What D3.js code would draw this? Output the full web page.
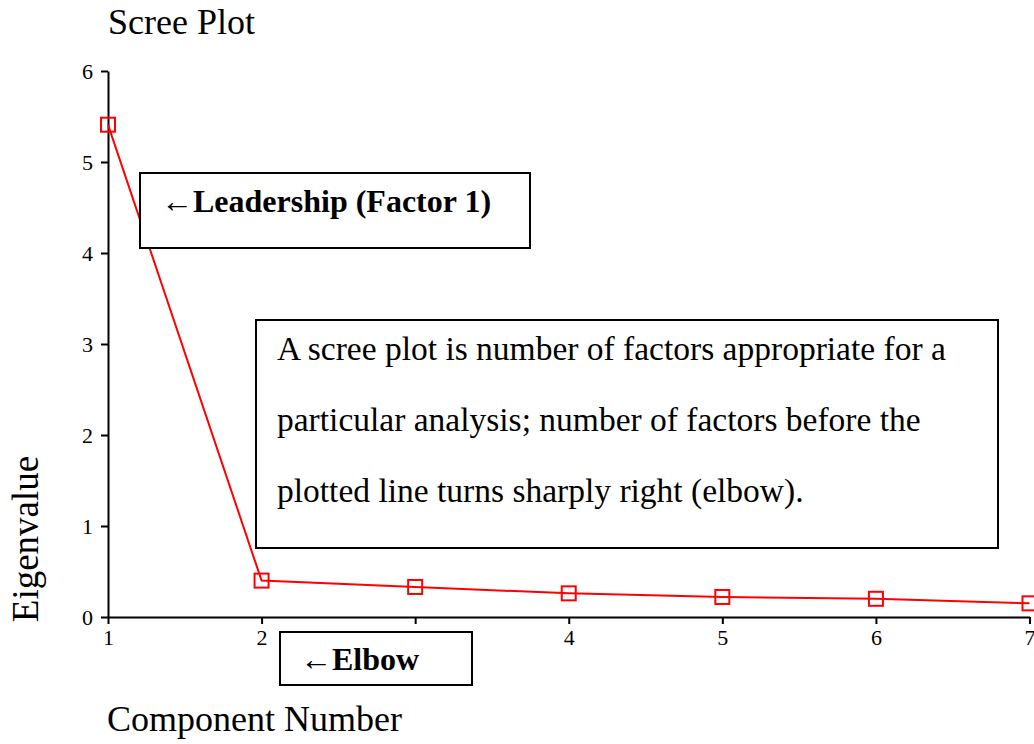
<!DOCTYPE html>
<html>
<head>
<meta charset="utf-8">
<script src="https://cdn.jsdelivr.net/npm/d3@7"></script>
<style>
  body { margin: 0; background: #fff; }
  svg text { font-family: "Liberation Serif", "Times New Roman", serif; }
</style>
</head>
<body>
<div id="chart"></div>
<script>
// component numbers and their eigenvalues
var components = [1, 2, 3, 4, 5, 6, 7];
var eigenvalues = [5.41, 0.40, 0.33, 0.26, 0.22, 0.20, 0.15];
var yTicks = [0, 1, 2, 3, 4, 5, 6];

var noteLines = [
	"A scree plot is number of factors appropriate for a",
	"particular analysis; number of factors before the",
	"plotted line turns sharply right (elbow)."
];

var W = 1034, H = 744;
var margin = {left: 108, right: 4, top: 71, bottom: 127};
var SERIF = '"Liberation Serif", "Times New Roman", serif';

var svg = d3.select("#chart").append("svg")
	.attr("width", W)
	.attr("height", H);

var x = d3.scaleLinear()
	.domain([1, 7])
	.range([margin.left, 1029.5]);

var y = d3.scaleLinear()
	.domain([0, 6])
	.range([617, margin.top]);

// axes
var xAxis = svg.append("g")
	.attr("transform", "translate(0," + y(0) + ")")
	.call(d3.axisBottom(x).tickValues(components).tickFormat(d3.format("d"))
		.tickSize(7).tickPadding(5).tickSizeOuter(0));

var yAxis = svg.append("g")
	.attr("transform", "translate(" + x(1) + ",0)")
	.call(d3.axisLeft(y).tickValues(yTicks).tickFormat(d3.format("d"))
		.tickSize(7).tickPadding(8).tickSizeOuter(0));

[xAxis, yAxis].forEach(function(g) {
	g.attr("font-family", SERIF).attr("font-size", 22);
	g.selectAll(".domain").attr("stroke", "#000").attr("stroke-width", 2);
	g.selectAll(".tick line").attr("stroke", "#000").attr("stroke-width", 2);
	g.selectAll(".tick text")
		.style("font-family", SERIF)
		.style("font-size", "22px")
		.attr("fill", "#000");
});

// scree line
var line = d3.line()
	.x(function(d, i) { return x(components[i]); })
	.y(function(d) { return y(d); });

svg.append("path")
	.datum(eigenvalues)
	.attr("d", line)
	.attr("fill", "none")
	.attr("stroke", "#ff0000")
	.attr("stroke-width", 2);

var S = 14;
svg.selectAll(".marker")
	.data(eigenvalues)
	.enter()
	.append("rect")
		.attr("class", "marker")
		.attr("x", function(d, i) { return x(components[i]) - S/2; })
		.attr("y", function(d) { return y(d) - S/2; })
		.attr("width", S)
		.attr("height", S)
		.attr("fill", "none")
		.attr("stroke", "#ff0000")
		.attr("stroke-width", 2);

// titles
svg.append("text")
	.attr("x", 108)
	.attr("y", 34)
	.style("font-size", "36px")
	.text("Scree Plot");

svg.append("text")
	.attr("x", 107)
	.attr("y", 731)
	.style("font-size", "36px")
	.text("Component Number");

svg.append("text")
	.attr("transform", "translate(38,539) rotate(-90)")
	.attr("text-anchor", "middle")
	.style("font-size", "37px")
	.text("Eigenvalue");

// annotation boxes (white fill covers what lies beneath)
function box(x0, y0, x1, y1) {
	svg.append("rect")
		.attr("x", x0)
		.attr("y", y0)
		.attr("width", x1 - x0)
		.attr("height", y1 - y0)
		.attr("fill", "#fff")
		.attr("stroke", "#000")
		.attr("stroke-width", 2);
}

box(140, 173, 530, 248);
svg.append("text")
	.attr("x", 161)
	.attr("y", 212)
	.style("font-size", "32px")
	.style("font-weight", "bold")
	.text("\u2190Leadership (Factor 1)");

box(256, 320, 998, 548);
svg.selectAll(".note")
	.data(noteLines)
	.enter()
	.append("text")
		.attr("class", "note")
		.attr("x", 277)
		.attr("y", function(d, i) { return 360 + i * 71; })
		.style("font-size", "33.5px")
		.text(function(d) { return d; });

box(280, 632, 472, 685);
svg.append("text")
	.attr("x", 300)
	.attr("y", 670)
	.style("font-size", "32px")
	.style("font-weight", "bold")
	.text("\u2190Elbow");
</script>
</body>
</html>
